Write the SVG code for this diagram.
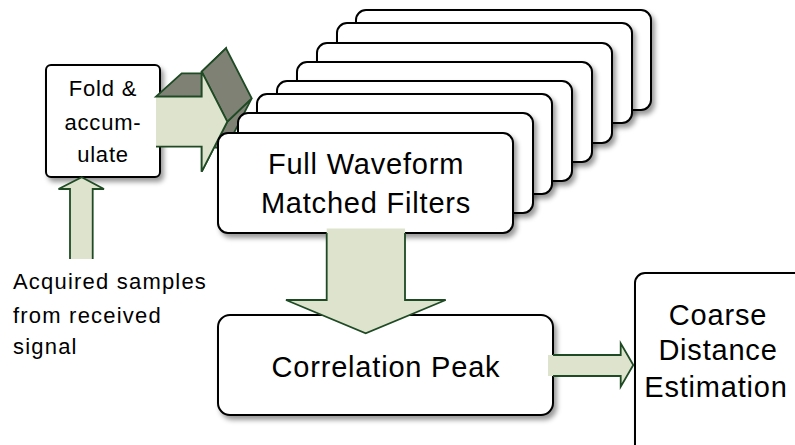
<svg xmlns="http://www.w3.org/2000/svg" width="795" height="445" viewBox="0 0 795 445">
<defs>
<filter id="sh" x="-10%" y="-10%" width="130%" height="140%">
<feDropShadow dx="3" dy="4" stdDeviation="2.5" flood-color="#000" flood-opacity="0.4"/>
</filter>
<style>
.box{fill:#fff;stroke:#000;stroke-width:2;filter:url(#sh)}
.t{font-family:"Liberation Sans",Arial,sans-serif;fill:#000}
.big{font-size:29px;letter-spacing:0.8px;text-anchor:middle}
.mid{font-size:22px;letter-spacing:0.8px;text-anchor:middle}
.lbl{font-size:22px;letter-spacing:1.2px}
.af{fill:#dde3cc;stroke:#1e4a24;stroke-width:1.8;stroke-linejoin:miter}
.ad{fill:#7e8174;stroke:#1e4a24;stroke-width:1.8;stroke-linejoin:miter}
.nf{fill:#dde3cc;stroke:none}
</style>
</defs>

<g id="fold">
<rect class="box" x="46" y="65" width="114" height="112" rx="5"/>
<text class="t mid" x="103" y="96">Fold &amp;</text>
<text class="t mid" x="103" y="130">accum-</text>
<text class="t mid" x="103" y="162">ulate</text>
</g>

<g id="connectors">
<g id="arrow3d">
<polygon class="ad" points="201.7,146.7 226,148.3 251.7,98.3 227.3,121.7 201.7,171.7"/>
<polygon class="ad" points="156,96.7 201.7,96.7 226,73.3 181.7,73.3"/>
<polygon class="ad" points="201.7,96.7 201.7,71.7 226,48.3 226,73.3"/>
<polygon class="ad" points="201.7,71.7 227.3,121.7 251.7,98.3 226,48.3"/>
<polygon class="nf" points="156,96.7 201.7,96.7 201.7,71.7 227.3,121.7 201.7,171.7 201.7,146.7 156,146.7"/>
<polyline class="af" fill="none" points="156,96.7 201.7,96.7 201.7,71.7 227.3,121.7 201.7,171.7 201.7,146.7 156,146.7"/>
</g>
<g id="arrow-up">
<polygon class="nf" points="70,259 70,189 58.5,189 81.7,177.3 104,189 92.7,189 92.7,259"/>
<polyline class="af" points="70,259 70,189 58.5,189 81.7,177.3 104,189 92.7,189 92.7,259"/>
</g>
</g>

<g id="filters">
<rect class="box" x="356" y="10" width="295" height="100" rx="10"/>
<rect class="box" x="337" y="23" width="295" height="100" rx="10"/>
<rect class="box" x="317" y="43" width="295" height="100" rx="10"/>
<rect class="box" x="297" y="62" width="295" height="100" rx="10"/>
<rect class="box" x="277" y="81" width="295" height="100" rx="10"/>
<rect class="box" x="257" y="94" width="295" height="100" rx="10"/>
<rect class="box" x="238" y="113" width="295" height="100" rx="10"/>
<rect class="box" x="218" y="133" width="295" height="100" rx="10"/>
<text class="t big" x="366" y="174">Full Waveform</text>
<text class="t big" x="366" y="213">Matched Filters</text>
</g>

<g id="correlation">
<rect class="box" x="218" y="315" width="335" height="100" rx="12"/>
<text class="t big" x="386" y="377">Correlation Peak</text>
</g>

<g id="coarse">
<rect class="box" x="635" y="273" width="185" height="195" rx="10"/>
<text class="t big" x="718" y="325">Coarse</text>
<text class="t big" x="718" y="360">Distance</text>
<text class="t big" x="716" y="397">Estimation</text>
</g>

<g id="connectors2">
<g id="arrow-down">
<polygon class="nf" points="326.7,228.5 405,228.5 405,300 445.7,300 365.7,333.3 286,300 326.7,300"/>
<polyline class="af" points="326.7,233 326.7,300 286,300 365.7,333.3 445.7,300 405,300 405,233" fill="none"/>
</g>
<g id="arrow-right">
<polygon class="nf" points="548,355 620.7,355 620.7,343.3 633.3,365 620.7,386.7 620.7,376 548,376"/>
<polyline class="af" fill="none" points="553,355 620.7,355 620.7,343.3 633.3,365 620.7,386.7 620.7,376 553,376"/>
</g>
</g>

<g id="label">
<text class="t lbl" x="13" y="289">Acquired samples</text>
<text class="t lbl" x="13" y="322.5">from received</text>
<text class="t lbl" x="13" y="354">signal</text>
</g>
</svg>
